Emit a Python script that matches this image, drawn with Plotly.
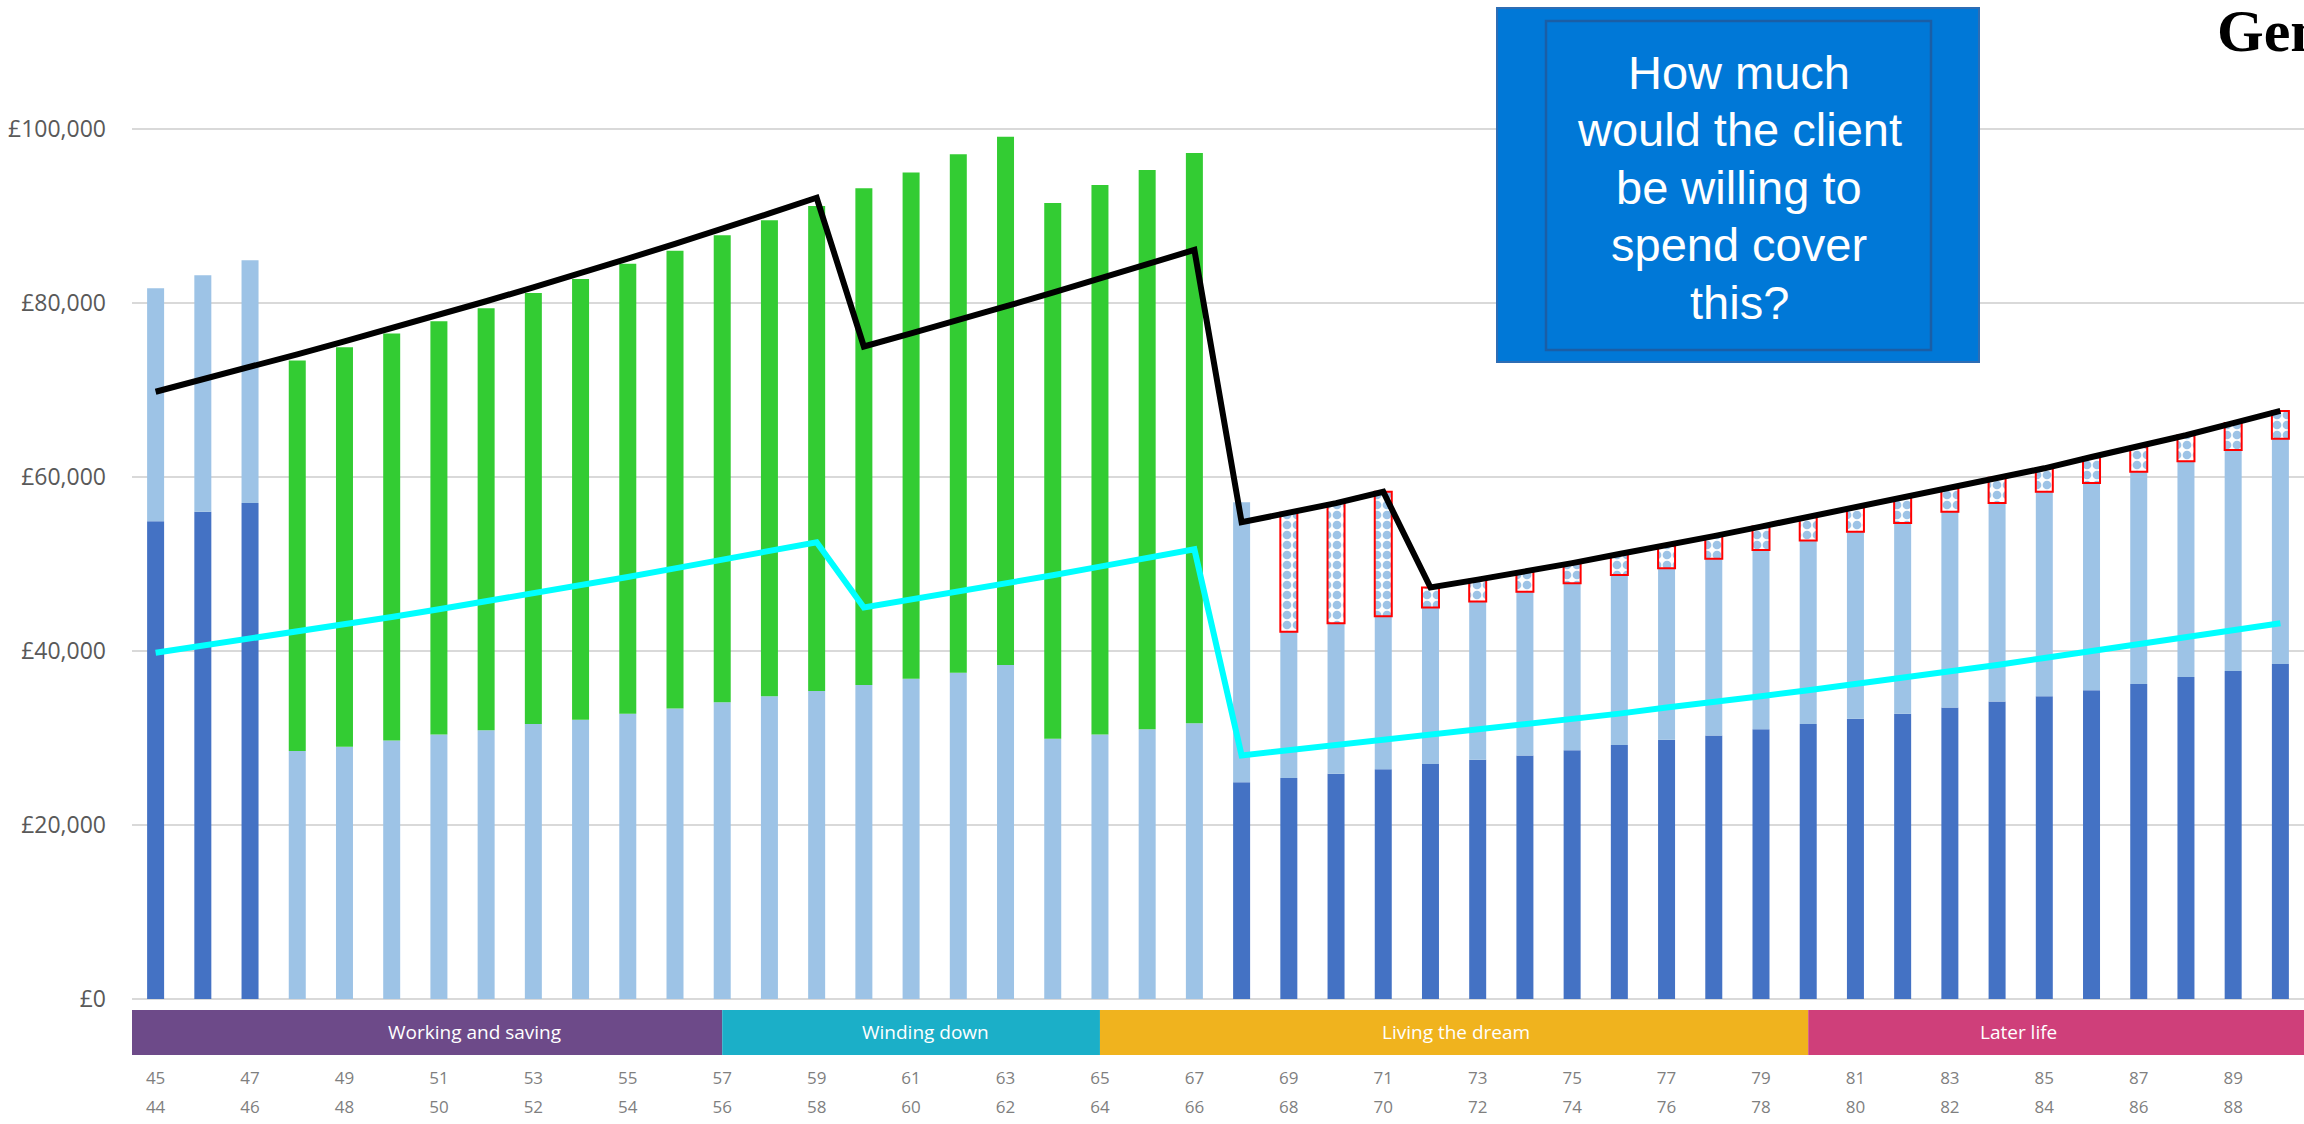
import plotly.graph_objects as go

# ---------------- data ----------------
ages_pre = [44, 45, 46]
pre_dark = [54900, 56000, 57000]
pre_total = [81700, 83200, 84900]

ages_mid = [47, 48, 49, 50, 51, 52, 53, 54, 55, 56, 57, 58, 59, 60, 61, 62, 63, 64, 65, 66]
mid_light = [28500, 29000, 29700, 30400, 30900, 31600, 32100, 32800, 33400, 34100,
             34800, 35400, 36100, 36800, 37500, 38400, 29900, 30400, 31000, 31700]
mid_green_top = [73400, 74900, 76500, 77900, 79400, 81150, 82750, 84500, 86000, 87800,
                 89500, 91150, 93200, 95000, 97100, 99100, 91500, 93550, 95300, 97250]

ages_post = [67, 68, 69, 70, 71, 72, 73, 74, 75, 76, 77, 78, 79, 80, 81, 82, 83, 84, 85, 86, 87, 88, 89]
post_dark = [24900, 25400, 25900, 26400, 27000, 27500, 28000, 28600, 29200, 29800, 30300, 31000,
             31600, 32200, 32800, 33500, 34200, 34800, 35500, 36200, 37000, 37700, 38500]
post_light_top = [57100, 42200, 43200, 44000, 45000, 45700, 46800, 47800, 48750, 49500, 50600, 51600,
                  52700, 53700, 54700, 56000, 57000, 58300, 59300, 60600, 61800, 63100, 64400]

ages_all = list(range(44, 90))
target_spend = [69800, 71200, 72600, 74100, 75600, 77100, 78600, 80200, 81800, 83400, 85100, 86800,
                88500, 90300, 92100,
                75000, 76500, 78000, 79600, 81200, 82800, 84500, 86100,
                54800, 55900, 57000, 58300,
                47300, 48200, 49100, 50100, 51150, 52100, 53200, 54300, 55400, 56500, 57600, 58700,
                59900, 61000, 62300, 63500, 64800, 66200, 67600]
essential_spend = [39800, 40600, 41400, 42200, 43100, 43900, 44800, 45700, 46600, 47600, 48500, 49500,
                   50500, 51500, 52500,
                   45000, 45900, 46800, 47800, 48700, 49700, 50700, 51700,
                   28000, 28600, 29100, 29700, 30300, 30900, 31500, 32200, 32800, 33500, 34100, 34800,
                   35500, 36200, 36900, 37700, 38400, 39200, 40000, 40800, 41600, 42400, 43200]

tick_ages = [44, 46, 48, 50, 52, 54, 56, 58, 60, 62, 64, 66, 68, 70, 72, 74, 76, 78, 80, 82, 84, 86, 88]
labels_bottom = ["44", "46", "48", "50", "52", "54", "56", "58", "60", "62", "64", "66",
                 "68", "70", "72", "74", "76", "78", "80", "82", "84", "86", "88"]
labels_top = ["45", "47", "49", "51", "53", "55", "57", "59", "61", "63", "65", "67",
              "69", "71", "73", "75", "77", "79", "81", "83", "85", "87", "89"]

y_ticks = [0, 20000, 40000, 60000, 80000, 100000]
y_labels = ["£0", "£20,000", "£40,000", "£60,000", "£80,000", "£100,000"]

phase_names = ["Working and saving", "Winding down", "Living the dream", "Later life"]
phase_start = [43.5, 56, 64, 79]
phase_end = [56, 64, 79, 89.5]
phase_label_x = [50.75, 60.3, 71.55, 83.45]
phase_colors = ["#6D4A89", "#1BAFC8", "#F0B31E", "#CF3F7A"]

question_lines = ["How much", "would the client", "be willing to", "spend cover", "this?"]
logo_text = "<b>Legal &amp;<br>General</b>"

# ---------------- layout geometry ----------------
FIG_W, FIG_H = 2304, 1124
M_L, M_R, M_T, M_B = 132, 0, 20, 125
PLOT_W = FIG_W - M_L - M_R
PLOT_H = FIG_H - M_T - M_B
Y_TOP = PLOT_H / 870 * 100000  # 870 px per 100k


def pxx(px):
    return (px - M_L) / PLOT_W


def pxy(py):
    return (FIG_H - M_B - py) / PLOT_H


DARK = "#4472C4"
LIGHT = "#9DC3E6"
GREEN = "#33CC33"

fig = go.Figure()

# dark blue
fig.add_trace(go.Bar(
    x=ages_pre + ages_post, y=pre_dark + post_dark, base=0,
    marker=dict(color=DARK, line=dict(width=0)), width=0.36, name="dark"))

# light blue
lb_x = ages_pre + ages_mid + ages_post
lb_base = pre_dark + [0 for _ in ages_mid] + post_dark
lb_top = pre_total + mid_light + post_light_top
fig.add_trace(go.Bar(
    x=lb_x, y=[t - b for t, b in zip(lb_top, lb_base)], base=lb_base,
    marker=dict(color=LIGHT, line=dict(width=0)), width=0.36, name="light"))

# green
fig.add_trace(go.Bar(
    x=ages_mid, y=[g - l for g, l in zip(mid_green_top, mid_light)], base=mid_light,
    marker=dict(color=GREEN, line=dict(width=0)), width=0.36, name="green"))

# checkered shortfall
target_post = target_spend[ages_all.index(68):]
chk_base = post_light_top[1:]
fig.add_trace(go.Bar(
    x=ages_post[1:], y=[t - b for t, b in zip(target_post, chk_base)], base=chk_base,
    marker=dict(color="white", line=dict(color="#FF0000", width=2),
                pattern=dict(shape=".", fgcolor=LIGHT, bgcolor="white", size=10, solidity=0.6,
                             fillmode="replace")),
    width=0.36, name="gap"))

# lines
fig.add_trace(go.Scatter(x=ages_all, y=target_spend, mode="lines", xaxis="x2",
                         line=dict(color="black", width=6), name="target"))
fig.add_trace(go.Scatter(x=ages_all, y=essential_spend, mode="lines", xaxis="x2",
                         line=dict(color="#00FFFF", width=6), name="essential"))

shapes = []
annotations = []
for name, s, e, c, lx in zip(phase_names, phase_start, phase_end, phase_colors, phase_label_x):
    shapes.append(dict(type="rect", xref="x", yref="paper", x0=s, x1=e,
                       y0=pxy(1055), y1=pxy(1010), fillcolor=c, line=dict(width=0), layer="above"))
    annotations.append(dict(x=lx, y=pxy(1032), xref="x", yref="paper", text=name, showarrow=False,
                            font=dict(family="Open Sans", size=19, color="white"),
                            xanchor="center", yanchor="middle"))

# question box
shapes.append(dict(type="rect", xref="paper", yref="paper", x0=pxx(1497), x1=pxx(1979),
                   y0=pxy(362), y1=pxy(8), fillcolor="#0078D7",
                   line=dict(color="#2E6DB4", width=2), layer="above"))
shapes.append(dict(type="rect", xref="paper", yref="paper", x0=pxx(1546), x1=pxx(1931),
                   y0=pxy(350), y1=pxy(21), fillcolor="rgba(0,0,0,0)",
                   line=dict(color="#1A5EA6", width=2.5), layer="above"))
for i, line in enumerate(question_lines):
    annotations.append(dict(x=pxx(1739), y=pxy(72 + 57.5 * i), xref="paper", yref="paper", text=line,
                            showarrow=False, font=dict(family="Liberation Sans", size=47, color="white"),
                            xanchor="center", yanchor="middle", align="center"))

# logo (runs off the top-right edge, as in the reference)
annotations.append(dict(x=pxx(2215), y=pxy(66), xref="paper", yref="paper", text=logo_text,
                        showarrow=False, font=dict(family="Liberation Serif", size=60, color="black"),
                        xanchor="left", yanchor="bottom", align="left"))

fig.update_layout(
    width=FIG_W, height=FIG_H,
    margin=dict(l=M_L, r=M_R, t=M_T, b=M_B, pad=0),
    paper_bgcolor="white", plot_bgcolor="white",
    barmode="overlay", showlegend=False,
    shapes=shapes, annotations=annotations,
    xaxis=dict(range=[43.5, 89.5], tickvals=tick_ages, ticktext=labels_bottom,
               tickfont=dict(family="Open Sans", size=17, color="#7F7F7F"),
               showgrid=False, zeroline=False, showline=False, ticks="",
               ticklabelstandoff=96, automargin=False),
    xaxis2=dict(range=[43.5, 89.5], overlaying="x", side="bottom", anchor="y",
                tickvals=tick_ages, ticktext=labels_top,
                tickfont=dict(family="Open Sans", size=17, color="#7F7F7F"),
                showgrid=False, zeroline=False, showline=False, ticks="",
                ticklabelstandoff=67, automargin=False),
    yaxis=dict(range=[0, Y_TOP], tickvals=y_ticks, ticktext=y_labels,
               tickfont=dict(family="Open Sans", size=23, color="#595959"),
               showgrid=True, gridcolor="#D9D9D9", gridwidth=2,
               zeroline=True, zerolinecolor="#D9D9D9", zerolinewidth=2,
               showline=False, ticks="", ticklabelstandoff=25, automargin=False),
)

fig.write_html("out.html")
